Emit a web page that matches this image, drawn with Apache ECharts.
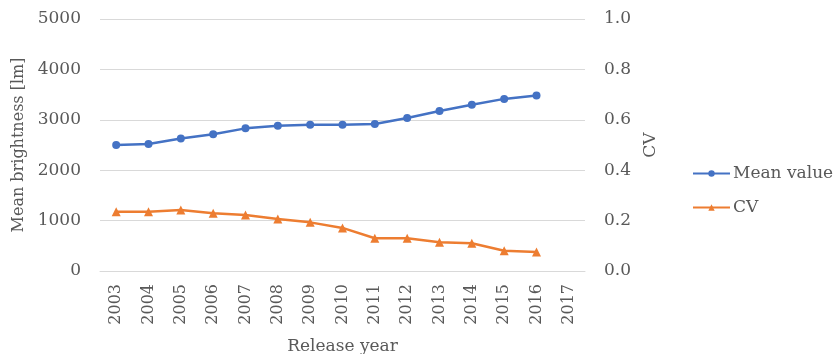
<!DOCTYPE html>
<html>
<head>
<meta charset="utf-8">
<script src="https://cdn.jsdelivr.net/npm/echarts@6/dist/echarts.min.js"></script>
<style>
  html, body { margin: 0; padding: 0; background: #fff; }
  #chart { width: 840px; height: 354px; }
</style>
</head>
<body>
<div id="chart"></div>
<script>
// Release years on the category axis
const years = ['2003', '2004', '2005', '2006', '2007', '2008', '2009', '2010',
               '2011', '2012', '2013', '2014', '2015', '2016', '2017'];
// Mean brightness in lumens per release year
const meanValue = [2500, 2520, 2630, 2715, 2830, 2880, 2900, 2900, 2915, 3035, 3175, 3300, 3415, 3480];
// Coefficient of variation per release year
const cvValue = [0.235, 0.235, 0.242, 0.229, 0.222, 0.206, 0.193, 0.171, 0.130, 0.130, 0.114, 0.110, 0.080, 0.075];

const FONT = 'DejaVu Serif';
const TEXT = '#595959';
const GRID = '#d9d9d9';

const chart = echarts.init(document.getElementById('chart'));
chart.setOption({
  animation: false,
  textStyle: { fontFamily: FONT, color: TEXT },
  grid: { left: 100, right: 255, top: 19, bottom: 83, containLabel: false, outerBoundsMode: 'none' },
  legend: {
    orient: 'vertical',
    left: 692,
    top: 165,
    padding: 0,
    itemGap: 17,
    itemWidth: 37,
    itemHeight: 8,
    textStyle: { fontFamily: FONT, fontSize: 17, color: TEXT, padding: [0, 0, 0, -2] },
    data: ['Mean value', 'CV']
  },
  xAxis: {
    type: 'category',
    data: years,
    boundaryGap: true,
    name: 'Release year',
    nameLocation: 'middle',
    nameGap: 67,
    nameTextStyle: { fontFamily: FONT, fontSize: 17, color: TEXT },
    axisLine: { show: true, lineStyle: { color: GRID, width: 1 } },
    axisTick: { show: false },
    axisLabel: { rotate: 90, fontSize: 16, color: TEXT, margin: 13, interval: 0 }
  },
  yAxis: [
    {
      type: 'value',
      min: 0, max: 5000, interval: 1000,
      name: 'Mean brightness [lm]',
      nameLocation: 'middle',
      nameGap: 66,
      nameTextStyle: { fontFamily: FONT, fontSize: 16, color: TEXT },
      axisLine: { show: false },
      axisTick: { show: false },
      axisLabel: { fontSize: 17, color: TEXT, margin: 19, formatter: v => String(v) },
      splitLine: { lineStyle: { color: GRID, width: 1 } }
    },
    {
      type: 'value',
      min: 0, max: 1, interval: 0.2,
      name: 'CV',
      nameLocation: 'middle',
      nameGap: 52,
      nameTextStyle: { fontFamily: FONT, fontSize: 17, color: TEXT },
      axisLine: { show: false },
      axisTick: { show: false },
      axisLabel: { fontSize: 17, color: TEXT, margin: 19, formatter: v => v.toFixed(1) },
      splitLine: { show: false }
    }
  ],
  series: [
    {
      name: 'Mean value',
      type: 'line',
      yAxisIndex: 0,
      data: meanValue,
      symbol: 'circle',
      symbolSize: 8,
      itemStyle: { color: '#4472C4' },
      lineStyle: { color: '#4472C4', width: 2.5 }
    },
    {
      name: 'CV',
      type: 'line',
      yAxisIndex: 1,
      data: cvValue,
      symbol: 'triangle',
      symbolSize: 9,
      itemStyle: { color: '#ED7D31' },
      lineStyle: { color: '#ED7D31', width: 2.5 }
    }
  ]
});
</script>
</body>
</html>
